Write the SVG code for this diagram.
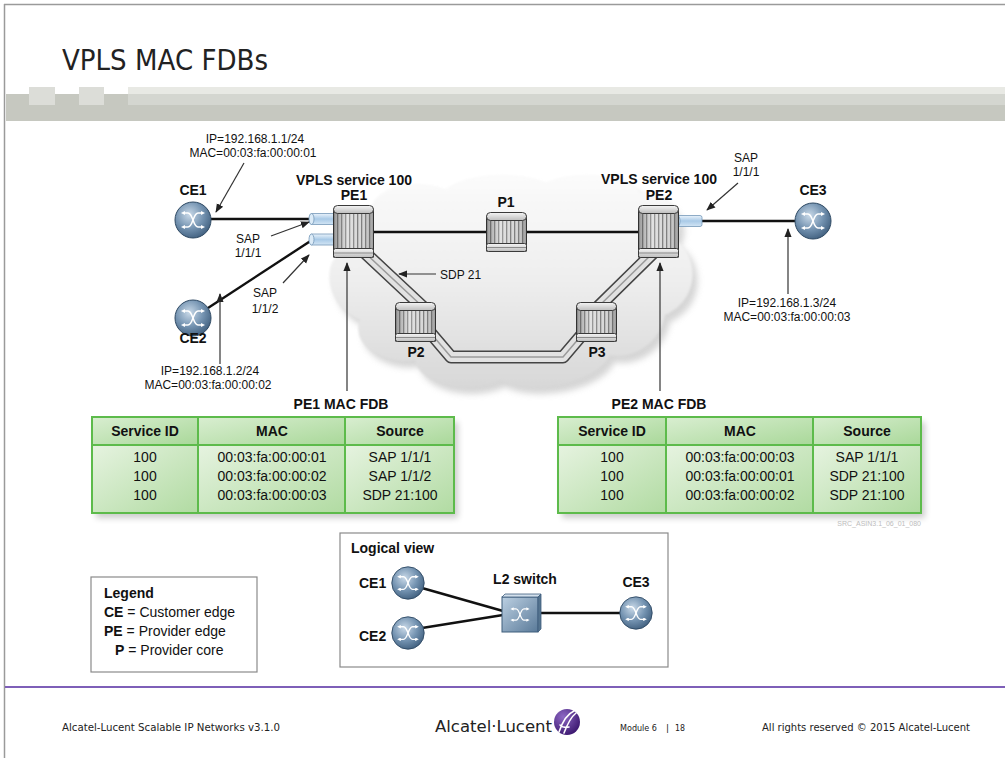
<svg xmlns="http://www.w3.org/2000/svg" width="1005" height="758" viewBox="0 0 1005 758">
<defs>
<style>
 .t{font-family:"Liberation Sans",Arial,sans-serif;fill:#111}
 .lbl{font-size:14px;font-weight:bold;text-anchor:middle}
 .ip{font-size:12px;text-anchor:middle}
 .th{font-size:14px;font-weight:bold;text-anchor:middle}
 .td{font-size:14px;text-anchor:middle}
 .link{stroke:#111;stroke-width:2.4;fill:none}
 .call{stroke:#333;stroke-width:1.2;fill:none;marker-end:url(#ah)}
 .cell{fill:url(#cellG);stroke:#5dbb4b;stroke-width:2}
 .hcell{fill:url(#hcellG);stroke:#5dbb4b;stroke-width:2}
 .ft{font-family:"DejaVu Sans",Verdana,sans-serif;fill:#222}
 .box{fill:#fff;stroke:#8a8a8a;stroke-width:1.2}
 .rline{stroke:#3a3a3a;stroke-width:1}
</style>
<marker id="ah" viewBox="0 0 10 10" refX="9" refY="5" markerWidth="9" markerHeight="9" markerUnits="userSpaceOnUse" orient="auto"><path d="M0,1 L10,5 L0,9 z" fill="#222"/></marker>
<marker id="wa" viewBox="0 0 6 6" refX="3" refY="3" markerWidth="4" markerHeight="4" markerUnits="userSpaceOnUse" orient="auto-start-reverse"><path d="M0,0 L6,3 L0,6 z" fill="#fff"/></marker>
<filter id="soft" x="-10%" y="-10%" width="120%" height="120%"><feGaussianBlur stdDeviation="3"/></filter>
<filter id="edge" x="-5%" y="-5%" width="110%" height="110%"><feGaussianBlur stdDeviation="1.2"/></filter>
<linearGradient id="cloudG" x1="0" y1="175" x2="0" y2="395" gradientUnits="userSpaceOnUse">
 <stop offset="0" stop-color="#fbfbfb"/><stop offset="0.45" stop-color="#efefef"/><stop offset="1" stop-color="#d6d6d6"/>
</linearGradient>
<pattern id="stripes" patternUnits="userSpaceOnUse" width="4" height="60">
 <rect width="4" height="60" fill="#d8d8d8"/><rect width="1.3" height="60" fill="#7c7c7c"/>
</pattern>
<linearGradient id="shade" x1="0" y1="0" x2="1" y2="0">
 <stop offset="0" stop-color="#000" stop-opacity="0.3"/><stop offset="0.35" stop-color="#fff" stop-opacity="0.25"/>
 <stop offset="0.65" stop-color="#fff" stop-opacity="0"/><stop offset="1" stop-color="#000" stop-opacity="0.3"/>
</linearGradient>
<linearGradient id="cap" x1="0" y1="0" x2="0" y2="1">
 <stop offset="0" stop-color="#f5f5f5"/><stop offset="1" stop-color="#bdbdbd"/>
</linearGradient>
<radialGradient id="ceG" cx="0.4" cy="0.35" r="0.7">
 <stop offset="0" stop-color="#c9d9e8"/><stop offset="0.55" stop-color="#7493b1"/><stop offset="1" stop-color="#3f5e7d"/>
</radialGradient>
<linearGradient id="swG" x1="0" y1="0" x2="1" y2="1">
 <stop offset="0" stop-color="#bcd0e2"/><stop offset="1" stop-color="#5a7a99"/>
</linearGradient>
<linearGradient id="tubeG" x1="0" y1="0" x2="0" y2="1">
 <stop offset="0" stop-color="#eaf3fb"/><stop offset="0.5" stop-color="#a9cae7"/><stop offset="1" stop-color="#d3e5f4"/>
</linearGradient>
<linearGradient id="cellG" x1="0" y1="0" x2="1" y2="1">
 <stop offset="0" stop-color="#e6f3e0"/><stop offset="1" stop-color="#b1dba2"/>
</linearGradient>
<linearGradient id="hcellG" x1="0" y1="0" x2="1" y2="1">
 <stop offset="0" stop-color="#d9eed1"/><stop offset="1" stop-color="#a9d899"/>
</linearGradient>
<radialGradient id="logoG" cx="0.35" cy="0.3" r="0.75">
 <stop offset="0" stop-color="#8d68c4"/><stop offset="1" stop-color="#3b176f"/>
</radialGradient>
<!-- crossing-arrows glyph used inside customer and switch icons -->
<g id="sym" fill="none" stroke="#fff" stroke-width="1.5">
 <path d="M-10,-7 H-5 C0,-7 0,7 5,7 H10" marker-start="url(#wa)" marker-end="url(#wa)"/>
 <path d="M-10,7 H-5 C0,7 0,-7 5,-7 H10" marker-start="url(#wa)" marker-end="url(#wa)"/>
</g>
<g id="ce">
 <circle r="18" fill="url(#ceG)" stroke="#2f4a64" stroke-width="1"/>
 <use href="#sym"/>
</g>
<!-- provider edge router (tall cylinder) -->
<g id="rtrTall">
 <rect x="0.5" y="4" width="40" height="48" fill="url(#stripes)" class="rline"/>
 <rect x="0.5" y="4" width="40" height="48" fill="url(#shade)"/>
 <rect x="0.5" y="0.5" width="40" height="8" rx="4" fill="url(#cap)" class="rline"/>
 <rect x="0.5" y="43.5" width="40" height="9" rx="2" fill="url(#cap)" class="rline"/>
 <line x1="1" y1="48" x2="40" y2="48" stroke="#8a8a8a"/>
</g>
<!-- provider core router (short cylinder) -->
<g id="rtrShort">
 <rect x="0.5" y="4" width="40" height="35" fill="url(#stripes)" class="rline"/>
 <rect x="0.5" y="4" width="40" height="35" fill="url(#shade)"/>
 <rect x="0.5" y="0.5" width="40" height="8" rx="4" fill="url(#cap)" class="rline"/>
 <rect x="0.5" y="31.5" width="40" height="8" rx="2" fill="url(#cap)" class="rline"/>
 <line x1="1" y1="35.5" x2="40" y2="35.5" stroke="#8a8a8a"/>
</g>
<g id="tube">
 <rect x="0" y="0" width="26" height="11" rx="2" fill="url(#tubeG)" stroke="#7497b8" stroke-width="0.8"/>
 <ellipse cx="1.5" cy="5.5" rx="2.5" ry="5.5" fill="#dcebf7" stroke="#7497b8" stroke-width="0.8"/>
</g>
</defs>

<!-- page -->
<rect width="1005" height="758" fill="#fff"/>
<line x1="4.5" y1="4" x2="4.5" y2="758" stroke="#9a9a9a" stroke-width="1.5"/>
<line x1="4" y1="4.5" x2="1005" y2="4.5" stroke="#9a9a9a" stroke-width="1.5"/>
<text x="62" y="70" class="ft" font-size="29" textLength="206" lengthAdjust="spacingAndGlyphs" fill="#111">VPLS MAC FDBs</text>
<g id="banner">
 <rect x="6" y="94" width="999" height="27" fill="#c6c8c0"/>
 <rect x="128" y="87" width="877" height="7" fill="#e8e9e4"/>
 <rect x="128" y="94" width="877" height="11" fill="#d4d6d0"/>
 <rect x="29" y="87" width="26" height="18" fill="#dcddd8"/>
 <rect x="79" y="87" width="25" height="18" fill="#dcddd8"/>
</g>

<!-- provider network cloud -->
<g id="cloud">
 <path d="M372 205 C380 185 420 178 445 190 C465 172 520 170 545 183 C570 170 625 172 640 192 C665 190 690 215 675 240 C700 255 700 300 665 315 C660 345 630 360 610 355 C595 385 530 395 500 380 C470 395 420 385 415 360 C385 365 350 345 360 320 C325 305 320 260 345 250 C335 230 350 205 372 205 Z" transform="translate(5,7)" fill="#c4c4c4" opacity="0.7" filter="url(#soft)"/>
 <path d="M372 205 C380 185 420 178 445 190 C465 172 520 170 545 183 C570 170 625 172 640 192 C665 190 690 215 675 240 C700 255 700 300 665 315 C660 345 630 360 610 355 C595 385 530 395 500 380 C470 395 420 385 415 360 C385 365 350 345 360 320 C325 305 320 260 345 250 C335 230 350 205 372 205 Z" fill="url(#cloudG)" filter="url(#edge)"/>
</g>

<!-- connectors -->
<g id="connectors">
 <g id="sdp21" fill="none" stroke-linejoin="round" stroke-linecap="butt">
  <path d="M362 250 L425 309 M428 330 L451 357 L563 357 L586 330 M596 309 L656 250" stroke="#444" stroke-width="13"/>
  <path d="M362 250 L425 309 M428 330 L451 357 L563 357 L586 330 M596 309 L656 250" stroke="#e2e2e2" stroke-width="10"/>
  <path d="M362 250 L425 309 M428 330 L451 357 L563 357 L586 330 M596 309 L656 250" stroke="#9a9a9a" stroke-width="1.5"/>
 </g>
 <line class="link" x1="211" y1="219" x2="312" y2="219"/>
 <line class="link" x1="208" y1="308" x2="312" y2="240"/>
 <line class="link" x1="374" y1="232" x2="486" y2="232"/>
 <line class="link" x1="527" y1="232" x2="638" y2="232"/>
 <line class="link" x1="700" y1="221" x2="795" y2="221"/>
 <use href="#tube" x="310" y="213.5"/>
 <use href="#tube" x="310" y="234"/>
 <use href="#tube" x="676" y="215.5"/>
 <!-- callout arrows -->
 <path class="call" d="M244 163 L216 212"/>
 <path class="call" d="M271 236 L309 222"/>
 <path class="call" d="M283 283 L309 255"/>
 <path class="call" d="M220 364 L220 294"/>
 <path class="call" d="M347 391 L347 263"/>
 <path class="call" d="M436 274 L399 274"/>
 <path class="call" d="M738 183 L707 210"/>
 <path class="call" d="M660 391 L660 263"/>
 <path class="call" d="M788 294 L788 229"/>
</g>

<!-- nodes -->
<g id="CE1"><use href="#ce" transform="translate(193,220)"/><text class="t lbl" x="193" y="195">CE1</text></g>
<g id="CE2"><use href="#ce" transform="translate(193,318)"/><text class="t lbl" x="193" y="343">CE2</text></g>
<g id="CE3"><use href="#ce" transform="translate(813,221)"/><text class="t lbl" x="813" y="195">CE3</text></g>
<g id="PE1"><use href="#rtrTall" x="333" y="205"/>
 <text class="t lbl" x="354" y="185">VPLS service 100</text><text class="t lbl" x="354" y="200">PE1</text></g>
<g id="PE2"><use href="#rtrTall" x="638" y="205"/>
 <text class="t lbl" x="659" y="184">VPLS service 100</text><text class="t lbl" x="659" y="200">PE2</text></g>
<g id="P1"><use href="#rtrShort" x="486" y="212"/><text class="t lbl" x="506" y="207">P1</text></g>
<g id="P2"><use href="#rtrShort" x="395" y="302"/><text class="t lbl" x="416" y="357">P2</text></g>
<g id="P3"><use href="#rtrShort" x="576" y="302"/><text class="t lbl" x="597" y="357">P3</text></g>

<!-- labels -->
<g id="labels" class="t">
 <text class="t ip" x="255" y="143">IP=192.168.1.1/24</text>
 <text class="t ip" x="253" y="157">MAC=00:03:fa:00:00:01</text>
 <text class="t ip" x="248" y="243">SAP</text>
 <text class="t ip" x="248" y="257">1/1/1</text>
 <text class="t ip" x="265" y="297">SAP</text>
 <text class="t ip" x="265" y="313">1/1/2</text>
 <text class="t ip" x="210" y="375">IP=192.168.1.2/24</text>
 <text class="t ip" x="208" y="389">MAC=00:03:fa:00:00:02</text>
 <text class="t" font-size="12" x="440" y="279">SDP 21</text>
 <text class="t ip" x="746" y="162">SAP</text>
 <text class="t ip" x="746" y="176">1/1/1</text>
 <text class="t ip" x="787" y="307">IP=192.168.1.3/24</text>
 <text class="t ip" x="787" y="321">MAC=00:03:fa:00:00:03</text>
</g>

<!-- PE1 forwarding table -->
<g id="fdb-pe1">
 <text class="t lbl" x="341" y="409">PE1 MAC FDB</text>
 <rect x="96" y="422" width="362" height="96" fill="#000" opacity="0.2" filter="url(#soft)"/>
 <rect class="hcell" x="92" y="417" width="106" height="28"/>
 <rect class="hcell" x="198" y="417" width="147" height="28"/>
 <rect class="hcell" x="345" y="417" width="109" height="28"/>
 <rect class="cell" x="92" y="445" width="106" height="68"/>
 <rect class="cell" x="198" y="445" width="147" height="68"/>
 <rect class="cell" x="345" y="445" width="109" height="68"/>
 <text class="t th" x="145" y="436">Service ID</text><text class="t th" x="272" y="436">MAC</text><text class="t th" x="400" y="436">Source</text>
 <text class="t td" x="145" y="462">100</text><text class="t td" x="272" y="462">00:03:fa:00:00:01</text><text class="t td" x="400" y="462">SAP 1/1/1</text>
 <text class="t td" x="145" y="481">100</text><text class="t td" x="272" y="481">00:03:fa:00:00:02</text><text class="t td" x="400" y="481">SAP 1/1/2</text>
 <text class="t td" x="145" y="500">100</text><text class="t td" x="272" y="500">00:03:fa:00:00:03</text><text class="t td" x="400" y="500">SDP 21:100</text>
</g>

<!-- PE2 forwarding table -->
<g id="fdb-pe2">
 <text class="t lbl" x="659" y="409">PE2 MAC FDB</text>
 <rect x="562" y="422" width="363" height="96" fill="#000" opacity="0.2" filter="url(#soft)"/>
 <rect class="hcell" x="558" y="417" width="108" height="28"/>
 <rect class="hcell" x="666" y="417" width="147" height="28"/>
 <rect class="hcell" x="813" y="417" width="108" height="28"/>
 <rect class="cell" x="558" y="445" width="108" height="68"/>
 <rect class="cell" x="666" y="445" width="147" height="68"/>
 <rect class="cell" x="813" y="445" width="108" height="68"/>
 <text class="t th" x="612" y="436">Service ID</text><text class="t th" x="740" y="436">MAC</text><text class="t th" x="867" y="436">Source</text>
 <text class="t td" x="612" y="462">100</text><text class="t td" x="740" y="462">00:03:fa:00:00:03</text><text class="t td" x="867" y="462">SAP 1/1/1</text>
 <text class="t td" x="612" y="481">100</text><text class="t td" x="740" y="481">00:03:fa:00:00:01</text><text class="t td" x="867" y="481">SDP 21:100</text>
 <text class="t td" x="612" y="500">100</text><text class="t td" x="740" y="500">00:03:fa:00:00:02</text><text class="t td" x="867" y="500">SDP 21:100</text>
</g>
<text x="921" y="526" font-family="Liberation Sans, Arial, sans-serif" font-size="7" fill="#bdbdbd" text-anchor="end">SRC_ASIN3.1_06_01_080</text>

<!-- legend -->
<g id="legend" class="t">
 <rect class="box" x="91" y="577" width="166" height="95"/>
 <text class="t" x="104" y="598" font-size="14" font-weight="bold">Legend</text>
 <text class="t" x="104" y="617" font-size="14"><tspan font-weight="bold">CE</tspan> = Customer edge</text>
 <text class="t" x="104" y="636" font-size="14"><tspan font-weight="bold">PE</tspan> = Provider edge</text>
 <text class="t" x="115" y="655" font-size="14"><tspan font-weight="bold">P</tspan> = Provider core</text>
</g>

<!-- logical view -->
<g id="logical-view">
 <rect class="box" x="340" y="533" width="328" height="134"/>
 <text class="t" x="351" y="553" font-size="14" font-weight="bold">Logical view</text>
 <g id="lv-connectors">
  <line class="link" x1="422" y1="588" x2="503" y2="611"/>
  <line class="link" x1="422" y1="628" x2="503" y2="615"/>
  <line class="link" x1="540" y1="613" x2="620" y2="613"/>
 </g>
 <g id="lv-CE1"><use href="#ce" transform="translate(408,583) scale(0.9)"/><text class="t" x="359" y="588" font-size="14" font-weight="bold">CE1</text></g>
 <g id="lv-CE2"><use href="#ce" transform="translate(408,633) scale(0.9)"/><text class="t" x="359" y="641" font-size="14" font-weight="bold">CE2</text></g>
 <g id="lv-CE3"><use href="#ce" transform="translate(636,613) scale(0.9)"/><text class="t lbl" x="636" y="587">CE3</text></g>
 <g id="lv-switch">
  <rect x="502" y="597" width="36" height="35" fill="url(#swG)" stroke="#3f5e7d" stroke-width="1"/>
  <polygon points="502,597 505,594 541,594 538,597" fill="#d3e0ec" stroke="#3f5e7d" stroke-width="0.8"/>
  <polygon points="538,597 541,594 541,629 538,632" fill="#55748f" stroke="#3f5e7d" stroke-width="0.8"/>
  <use href="#sym" transform="translate(520,614.5) scale(0.8)"/>
  <text class="t lbl" x="525" y="584">L2 switch</text>
 </g>
</g>

<!-- footer -->
<g id="footer">
 <line x1="5" y1="687" x2="1005" y2="687" stroke="#7e5fb8" stroke-width="2"/>
 <text class="ft" x="62" y="731" font-size="10.5" textLength="218" lengthAdjust="spacingAndGlyphs">Alcatel-Lucent Scalable IP Networks v3.1.0</text>
 <text class="ft" x="435" y="732" font-size="16" textLength="117" lengthAdjust="spacingAndGlyphs">Alcatel·Lucent</text>
 <circle cx="567" cy="722" r="13" fill="url(#logoG)"/>
 <path d="M559 732 C562 723 567 714 574 711 M564 733 C567 725 571 717 576 713 M569 727 C565 728 562 727 560 725" fill="none" stroke="#fff" stroke-width="1.6" stroke-linecap="round"/>
 <text class="ft" x="620" y="731" font-size="8.5" textLength="37" lengthAdjust="spacingAndGlyphs">Module 6</text>
 <text class="ft" x="666" y="731" font-size="9" fill="#888">|</text>
 <text class="ft" x="675" y="731" font-size="9" textLength="10" lengthAdjust="spacingAndGlyphs">18</text>
 <text class="ft" x="762" y="731" font-size="10.5" textLength="208" lengthAdjust="spacingAndGlyphs">All rights reserved © 2015 Alcatel-Lucent</text>
</g>
</svg>
